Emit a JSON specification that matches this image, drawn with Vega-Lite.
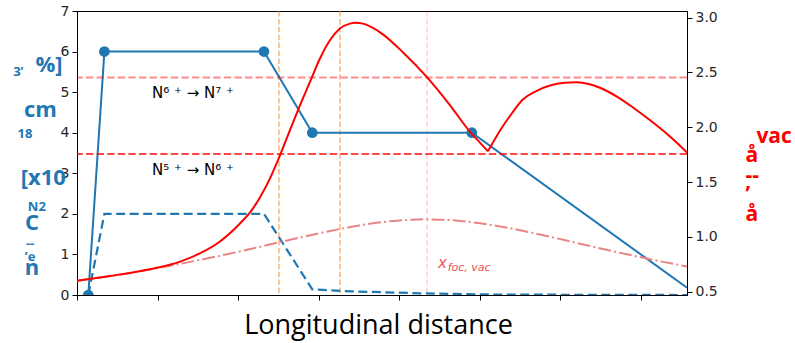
{
  "$schema": "https://vega.github.io/schema/vega-lite/v6.json",
  "width": 610,
  "height": 284,
  "autosize": "none",
  "padding": {"left": 77, "top": 11, "right": 108, "bottom": 48},
  "background": "white",
  "config": {
    "view": {"stroke": "black", "strokeWidth": 1},
    "axis": {"grid": false, "domainColor": "black", "tickColor": "black", "tickSize": 5, "labelFont": "DejaVu Sans", "labelFontSize": 14, "labelColor": "#262626", "labelPadding": 3}
  },
  "title": {
    "text": ["3’\u00a0\u00a0\u00a0\u00a0\u200b", "\u200b", "\u200b", "\u200b", "\u200b", "18", "\u200b", "\u200b", "\u200b", "\u200b", "\u200b", "\u200b\u00a0\u00a0\u00a0\u00a0\u00a0\u00a0\u00a0N2", "\u200b", "\u200b", "\u200b\u00a0\u00a0\u00a0--", "\u200b\u00a0\u00a0\u00a0’e"],
    "orient": "none", "anchor": "start", "frame": "group", "align": "center", "baseline": "top",
    "dx": -52, "dy": 55, "offset": 0,
    "font": "Open Sans", "fontSize": 13, "fontWeight": "bold", "color": "#1f77b4", "lineHeight": 12.3
  },
  "datasets": {
    "blue": [{"d":0.14,"v":0},{"d":0.34,"v":6},{"d":2.32,"v":6},{"d":2.92,"v":4},{"d":4.90,"v":4},{"d":7.57,"v":0.18}],
    "blueDash": [{"d":0.14,"v":0},{"d":0.34,"v":2},{"d":2.32,"v":2},{"d":2.92,"v":0.14},{"d":3.4,"v":0.09},{"d":4.3,"v":0.04},{"d":5.2,"v":0.01},{"d":7.57,"v":0}],
    "vlinesOrange": [{"d":2.506},{"d":3.263}],
    "vlinePink": [{"d":4.342}],
    "labels": [{"d":1.44,"v":4.98,"t":"N⁶ ⁺ → N⁷ ⁺"},{"d":1.44,"v":3.08,"t":"N⁵ ⁺ → N⁶ ⁺"}],
    "red": [{"s":1,"d":0,"v":0.6},{"s":1,"d":0.41,"v":0.643},{"s":1,"d":0.94,"v":0.71},{"s":1,"d":1.28,"v":0.774},{"s":1,"d":1.53,"v":0.851},{"s":1,"d":1.77,"v":0.956},{"s":1,"d":2.02,"v":1.12},{"s":1,"d":2.15,"v":1.225},{"s":1,"d":2.27,"v":1.36},{"s":1,"d":2.395,"v":1.534},{"s":1,"d":2.52,"v":1.746},{"s":1,"d":2.643,"v":1.974},{"s":1,"d":2.767,"v":2.2},{"s":1,"d":2.891,"v":2.413},{"s":1,"d":3.015,"v":2.627},{"s":1,"d":3.139,"v":2.793},{"s":1,"d":3.263,"v":2.9},{"s":1,"d":3.387,"v":2.945},{"s":1,"d":3.45,"v":2.953},{"s":1,"d":3.55,"v":2.945},{"s":1,"d":3.65,"v":2.915},{"s":1,"d":3.8,"v":2.845},{"s":1,"d":4.05,"v":2.68},{"s":1,"d":4.34,"v":2.46},{"s":1,"d":4.63,"v":2.2},{"s":1,"d":4.88,"v":1.955},{"s":1,"d":5.0,"v":1.86},{"s":1,"d":5.1,"v":1.78},{"s":2,"d":5.1,"v":1.78},{"s":2,"d":5.25,"v":1.97},{"s":2,"d":5.4,"v":2.13},{"s":2,"d":5.53,"v":2.25},{"s":2,"d":5.7,"v":2.33},{"s":2,"d":5.87,"v":2.38},{"s":2,"d":6.05,"v":2.405},{"s":2,"d":6.2,"v":2.41},{"s":2,"d":6.35,"v":2.395},{"s":2,"d":6.49,"v":2.36},{"s":2,"d":6.7,"v":2.28},{"s":2,"d":6.9,"v":2.18},{"s":2,"d":7.1,"v":2.07},{"s":2,"d":7.32,"v":1.94},{"s":2,"d":7.57,"v":1.77}],
    "dashdot": [{"d":0,"v":0.599},{"d":0.5,"v":0.653},{"d":1.0,"v":0.715},{"d":1.5,"v":0.786},{"d":2.0,"v":0.864},{"d":2.5,"v":0.949},{"d":3.0,"v":1.032},{"d":3.5,"v":1.104},{"d":4.0,"v":1.15},{"d":4.34,"v":1.16},{"d":4.7,"v":1.149},{"d":5.2,"v":1.102},{"d":5.7,"v":1.029},{"d":6.2,"v":0.945},{"d":6.7,"v":0.861},{"d":7.2,"v":0.783},{"d":7.57,"v":0.73}],
    "hlines": [{"v":2.454,"o":0.45},{"v":1.755,"o":0.72}],
    "foc": [{"d":4.48,"v":0.76,"t":"x"}],
    "focSub": [{"d":4.6,"v":0.712,"t":"foc, vac"}]
  },
  "layer": [
    {
      "layer": [
        {
          "data": {"name": "vlinesOrange"},
          "mark": {"type": "rule", "color": "#ff7f0e", "opacity": 0.55, "strokeWidth": 1.6, "strokeDash": [5.5, 2.4]},
          "encoding": {"x": {"field": "d", "type": "quantitative", "scale": {"domain": [0, 7.57], "nice": false, "zero": false}, "axis": {"values": [0,1,2,3,4,5,6,7], "labels": false, "title": "Longitudinal distance", "titleFont": "Open Sans", "titleFontSize": 27, "titleFontWeight": "normal", "titleColor": "black", "titleAlign": "center", "titleBaseline": "alphabetic", "titleX": 301, "titleY": 38}}}
        },
        {
          "data": {"name": "vlinePink"},
          "mark": {"type": "rule", "color": "#ff0000", "opacity": 0.17, "strokeWidth": 1.6, "strokeDash": [5.5, 2.4]},
          "encoding": {"x": {"field": "d", "type": "quantitative", "scale": {"domain": [0, 7.57], "nice": false, "zero": false}}}
        },
        {
          "data": {"name": "blueDash"},
          "mark": {"type": "line", "color": "#1f77b4", "strokeWidth": 2.2, "strokeDash": [9, 4.5], "clip": true},
          "encoding": {
            "x": {"field": "d", "type": "quantitative", "scale": {"domain": [0, 7.57], "nice": false, "zero": false}},
            "y": {"field": "v", "type": "quantitative", "scale": {"domain": [0, 7], "nice": false, "zero": false},
                  "axis": {"orient": "left", "values": [0,1,2,3,4,5,6,7],
                           "title": ["\u200b\u00a0\u00a0\u00a0%]", "\u200b", "cm", "\u200b", "\u200b", "\u200b\u00a0[x10", "\u200b", "C\u00a0\u00a0\u00a0\u200b", "\u200b", "n\u00a0\u00a0\u00a0\u200b"],
                           "titleAngle": 0, "titleAlign": "center", "titleBaseline": "top", "titleX": -37, "titleY": 43,
                           "titleFont": "Open Sans", "titleFontSize": 22, "titleFontWeight": "bold", "titleColor": "#1f77b4", "titleLineHeight": 22.6}}
          }
        },
        {
          "data": {"name": "blue"},
          "mark": {"type": "line", "color": "#1f77b4", "strokeWidth": 2, "clip": true},
          "encoding": {
            "x": {"field": "d", "type": "quantitative", "scale": {"domain": [0, 7.57], "nice": false, "zero": false}},
            "y": {"field": "v", "type": "quantitative", "scale": {"domain": [0, 7], "nice": false, "zero": false}}
          }
        },
        {
          "data": {"name": "blue"},
          "transform": [{"filter": "datum.d < 7"}],
          "mark": {"type": "point", "filled": true, "color": "#1f77b4", "opacity": 1, "size": 115, "clip": true},
          "encoding": {
            "x": {"field": "d", "type": "quantitative", "scale": {"domain": [0, 7.57], "nice": false, "zero": false}},
            "y": {"field": "v", "type": "quantitative", "scale": {"domain": [0, 7], "nice": false, "zero": false}}
          }
        },
        {
          "data": {"name": "labels"},
          "mark": {"type": "text", "font": "DejaVu Sans", "fontSize": 15, "color": "black", "align": "center", "baseline": "middle"},
          "encoding": {
            "x": {"field": "d", "type": "quantitative", "scale": {"domain": [0, 7.57], "nice": false, "zero": false}},
            "y": {"field": "v", "type": "quantitative", "scale": {"domain": [0, 7], "nice": false, "zero": false}},
            "text": {"field": "t"}
          }
        }
      ]
    },
    {
      "layer": [
        {
          "data": {"name": "hlines"},
          "mark": {"type": "rule", "color": "#ff0000", "strokeWidth": 2, "strokeDash": [7.4, 3.2]},
          "encoding": {
            "y": {"field": "v", "type": "quantitative", "scale": {"domain": [0.47, 3.06], "nice": false, "zero": false},
                  "axis": {"orient": "right", "values": [0.5,1,1.5,2,2.5,3], "format": ".1f",
                           "title": ["\u200b\u00a0\u00a0vac", "å", "--", "’", "å"],
                           "titleAngle": 0, "titleAlign": "left", "titleBaseline": "top", "titleX": 58, "titleY": 114,
                           "titleFont": "Open Sans", "titleFontSize": 21, "titleFontWeight": "bold", "titleColor": "#ff0000", "titleLineHeight": 19.5}},
            "opacity": {"field": "o", "type": "quantitative", "scale": null}
          }
        },
        {
          "data": {"name": "dashdot"},
          "mark": {"type": "line", "color": "#e88585", "strokeWidth": 2, "strokeDash": [12.8, 3.2, 2, 3.2], "interpolate": "monotone"},
          "encoding": {
            "x": {"field": "d", "type": "quantitative", "scale": {"domain": [0, 7.57], "nice": false, "zero": false}},
            "y": {"field": "v", "type": "quantitative", "scale": {"domain": [0.47, 3.06], "nice": false, "zero": false}}
          }
        },
        {
          "data": {"name": "red"},
          "mark": {"type": "line", "color": "#ff0000", "strokeWidth": 2, "interpolate": "monotone"},
          "encoding": {
            "x": {"field": "d", "type": "quantitative", "scale": {"domain": [0, 7.57], "nice": false, "zero": false}},
            "y": {"field": "v", "type": "quantitative", "scale": {"domain": [0.47, 3.06], "nice": false, "zero": false}},
            "detail": {"field": "s", "type": "nominal"}
          }
        },
        {
          "data": {"name": "foc"},
          "mark": {"type": "text", "font": "DejaVu Sans", "fontSize": 15, "fontStyle": "italic", "color": "#e8555a", "align": "left", "baseline": "middle"},
          "encoding": {
            "x": {"field": "d", "type": "quantitative", "scale": {"domain": [0, 7.57], "nice": false, "zero": false}},
            "y": {"field": "v", "type": "quantitative", "scale": {"domain": [0.47, 3.06], "nice": false, "zero": false}},
            "text": {"field": "t"}
          }
        },
        {
          "data": {"name": "focSub"},
          "mark": {"type": "text", "font": "DejaVu Sans", "fontSize": 11, "fontStyle": "italic", "color": "#e8555a", "align": "left", "baseline": "middle"},
          "encoding": {
            "x": {"field": "d", "type": "quantitative", "scale": {"domain": [0, 7.57], "nice": false, "zero": false}},
            "y": {"field": "v", "type": "quantitative", "scale": {"domain": [0.47, 3.06], "nice": false, "zero": false}},
            "text": {"field": "t"}
          }
        }
      ]
    }
  ],
  "resolve": {"scale": {"y": "independent"}}
}
